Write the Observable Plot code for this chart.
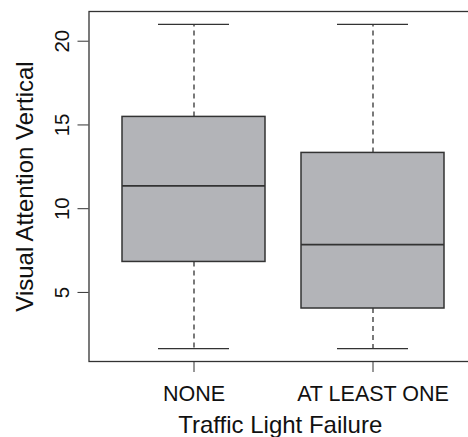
<!DOCTYPE html>
<html>
<head>
<meta charset="utf-8">
<script src="https://cdn.jsdelivr.net/npm/d3@7"></script>
<script src="https://cdn.jsdelivr.net/npm/@observablehq/plot@0.6"></script>
<style>
  html, body { margin: 0; padding: 0; background: #fff; overflow: hidden; }
  #chart { width: 468px; height: 437px; }
</style>
</head>
<body>
<div id="chart"></div>
<script>
// Data
const categories = ["NONE", "AT LEAST ONE"];
const whiskerLow = [1.65, 1.65];
const q1 = [6.82, 4.04];
const median = [11.36, 7.86];
const q3 = [15.48, 13.33];
const whiskerHigh = [21.0, 21.0];
const yTicks = [5, 10, 15, 20];
const xTitle = "Traffic Light Failure";
const yTitle = "Visual Attention Vertical";

const boxes = categories.map((c, i) => ({
  cat: c, lo: whiskerLow[i], q1: q1[i], med: median[i], q3: q3[i], hi: whiskerHigh[i]
}));

// R-style 4% expansion of the data range
const yMin = d3.min(whiskerLow), yMax = d3.max(whiskerHigh);
const pad = (yMax - yMin) * 0.04;

const ink = "#333";
const font = "'Liberation Sans', Arial, Helvetica, sans-serif";

const chart = Plot.plot({
  width: 468,
  height: 437,
  marginLeft: 88.5,
  marginRight: -9,
  marginTop: 11,
  marginBottom: 76,
  style: { fontFamily: font, background: "#fff", color: "#111" },
  x: { type: "band", domain: categories, paddingInner: 0.2, paddingOuter: 0.182, align: 0.5 },
  y: { domain: [yMin - pad, yMax + pad] },
  marks: [
    // whiskers (dashed)
    Plot.ruleX(boxes, { x: "cat", y1: "q3", y2: "hi", stroke: ink, strokeWidth: 1.3, strokeDasharray: "5,4" }),
    Plot.ruleX(boxes, { x: "cat", y1: "q1", y2: "lo", stroke: ink, strokeWidth: 1.3, strokeDasharray: "5,4" }),
    // whisker caps
    Plot.tickY(boxes, { x: "cat", y: "hi", insetLeft: 36, insetRight: 36, stroke: ink, strokeWidth: 1.3 }),
    Plot.tickY(boxes, { x: "cat", y: "lo", insetLeft: 36, insetRight: 36, stroke: ink, strokeWidth: 1.3 }),
    // boxes
    Plot.barY(boxes, { x: "cat", y1: "q1", y2: "q3", fill: "#b3b4b8", stroke: ink, strokeWidth: 1.5 }),
    // medians
    Plot.tickY(boxes, { x: "cat", y: "med", stroke: ink, strokeWidth: 1.8 }),
    // frame
    Plot.frame({ stroke: ink, strokeWidth: 1.3 }),
    // axes
    Plot.axisY({ ticks: yTicks, tickSize: 11, tickRotate: -90, tickPadding: 9, fontSize: 20.5, label: null, stroke: ink, fill: "#111" }),
    Plot.axisX({ tickSize: 11, tickPadding: 13, fontSize: 21.5, label: null, stroke: ink, fill: "#111" }),
    // axis titles
    Plot.text([xTitle], { text: d => d, frameAnchor: "bottom", dy: 71, dx: -3, lineAnchor: "bottom", textAnchor: "middle", fontSize: 24, fill: "#111" }),
    Plot.text([yTitle], { text: d => d, frameAnchor: "left", dx: -56, rotate: -90, lineAnchor: "bottom", textAnchor: "middle", fontSize: 24, fill: "#111" })
  ]
});
document.getElementById("chart").append(chart);
</script>
</body>
</html>
